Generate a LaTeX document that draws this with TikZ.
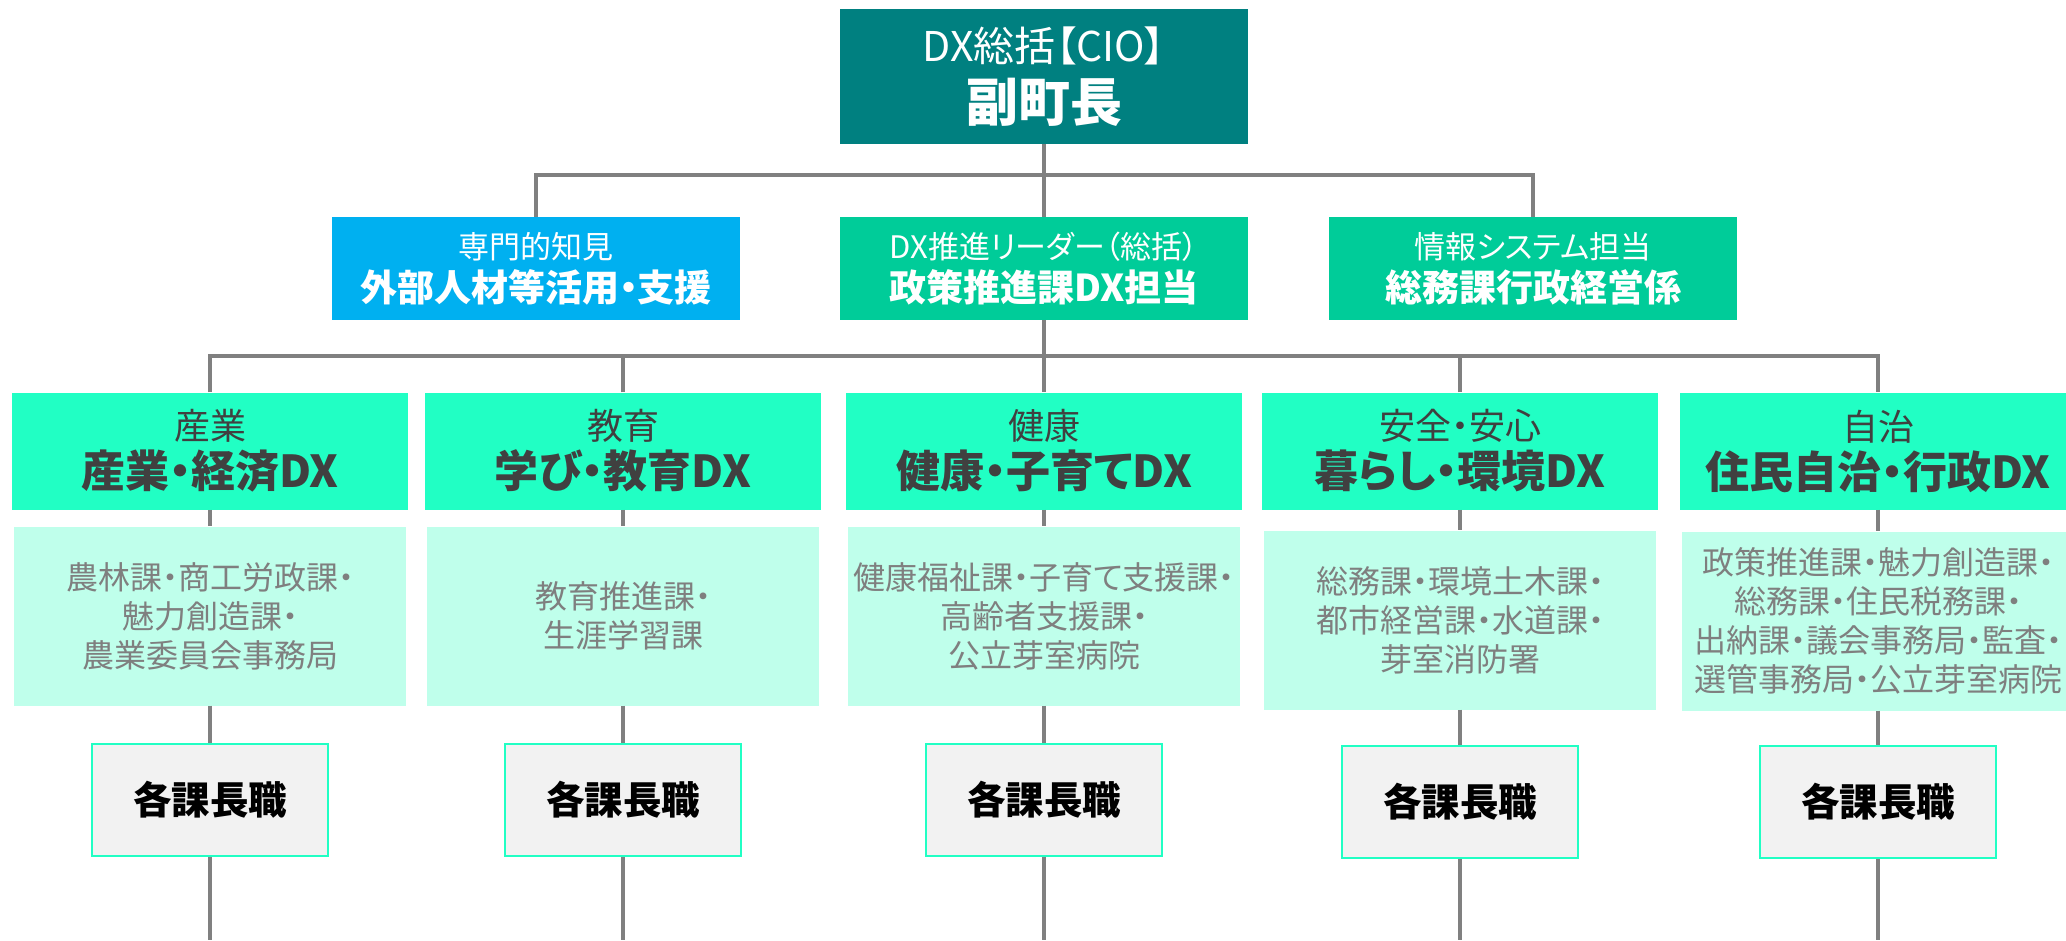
\documentclass[tikz,border=0pt]{standalone}
\usepackage{fontspec}
\setmainfont[RawFeature=+palt]{Noto Sans CJK JP}
\definecolor{cioteal}{RGB}{0,128,128}
\definecolor{extblue}{RGB}{0,176,240}
\definecolor{leadgreen}{RGB}{0,204,153}
\definecolor{dxmint}{RGB}{33,255,196}
\definecolor{deptmint}{RGB}{191,255,235}
\definecolor{chiefgray}{RGB}{242,242,242}
\definecolor{linegray}{RGB}{128,128,128}
\definecolor{darktext}{RGB}{64,64,64}
\definecolor{depttext}{RGB}{127,127,127}

\begin{document}
\begin{tikzpicture}[
  x=1pt, y=-1pt,
  conn/.style={draw=linegray, line width=4pt},
  ciobox/.style={rectangle, minimum width=408pt, minimum height=135pt, inner sep=2pt, fill=cioteal, text=white, align=center, font=\fontsize{41}{60}\selectfont},
  staffbox/.style={rectangle, minimum width=408pt, minimum height=103pt, inner sep=2pt, text=white, align=center, font=\fontsize{31}{43}\selectfont},
  dxbox/.style={rectangle, minimum width=396pt, minimum height=117pt, inner sep=2pt, fill=dxmint, text=darktext, align=center, font=\fontsize{36}{48}\selectfont},
  deptbox/.style={rectangle, minimum width=392pt, minimum height=179pt, inner sep=2pt, fill=deptmint, text=depttext, align=center, font=\fontsize{32}{39}\selectfont},
  chiefbox/.style={rectangle, minimum width=236pt, minimum height=112pt, draw=dxmint, line width=2.5pt, fill=chiefgray, font=\bfseries\fontsize{38.5}{40}\selectfont}
]
\useasboundingbox (0,0) rectangle (2066,940);

% top
\node[ciobox] (cio) at (1044,76.5) {DX総括【CIO】\\{\bfseries\fontsize{52}{60}\selectfont 副町長}};

% staff row
\node[staffbox, fill=extblue] (ext) at (536,268.5) {専門的知見\\{\bfseries\fontsize{37}{43}\selectfont 外部人材等活用・支援}};
\node[staffbox, fill=leadgreen] (lead) at (1044,268.5) {DX推進リーダー（総括）\\{\bfseries\fontsize{37}{43}\selectfont 政策推進課DX担当}};
\node[staffbox, fill=leadgreen] (info) at (1533,268.5) {情報システム担当\\{\bfseries\fontsize{37}{43}\selectfont 総務課行政経営係}};

% DX fields
\node[dxbox] (ind) at (210,451) {産業\\{\bfseries\fontsize{44}{48}\selectfont 産業・経済DX}};
\node[dxbox] (edu) at (623,451) {教育\\{\bfseries\fontsize{44}{48}\selectfont 学び・教育DX}};
\node[dxbox] (hlth) at (1044,451) {健康\\{\bfseries\fontsize{44}{48}\selectfont 健康・子育てDX}};
\node[dxbox] (life) at (1460,451) {安全・安心\\{\bfseries\fontsize{44}{48}\selectfont 暮らし・環境DX}};
\node[dxbox] (gov) at (1878,451) {自治\\{\bfseries\fontsize{44}{48}\selectfont 住民自治・行政DX}};

% departments
\node[deptbox] (indD) at (210,616) {農林課・商工労政課・\\魅力創造課・\\農業委員会事務局};
\node[deptbox] (eduD) at (623,616) {教育推進課・\\生涯学習課};
\node[deptbox] (hlthD) at (1044,616) {健康福祉課・子育て支援課・\\高齢者支援課・\\公立芽室病院};
\node[deptbox] (lifeD) at (1460,620) {総務課・環境土木課・\\都市経営課・水道課・\\芽室消防署};
\node[deptbox] (govD) at (1878,621) {政策推進課・魅力創造課・\\総務課・住民税務課・\\出納課・議会事務局・監査・\\選管事務局・公立芽室病院};

% section chiefs
\node[chiefbox] (indC) at (210,800) {各課長職};
\node[chiefbox] (eduC) at (623,800) {各課長職};
\node[chiefbox] (hlthC) at (1044,800) {各課長職};
\node[chiefbox] (lifeC) at (1460,802) {各課長職};
\node[chiefbox] (govC) at (1878,802) {各課長職};

\coordinate (busA) at (1044,175);
\coordinate (busB) at (1044,356);
\coordinate (indE) at (210,940);
\coordinate (eduE) at (623,940);
\coordinate (hlthE) at (1044,940);
\coordinate (lifeE) at (1460,940);
\coordinate (govE) at (1878,940);

% connectors
\draw[conn] (cio) -- (lead);
\draw[conn] (ext.north) |- (info.north |- busA) -- (info.north);
\draw[conn] (lead) -- (hlth);
\draw[conn] (ind.north) |- (gov.north |- busB) -- (gov.north);
\draw[conn] (edu.north) -- (edu.north |- busB);
\draw[conn] (life.north) -- (life.north |- busB);
\draw[conn] (ind) -- (indD) -- (indC) -- (indE);
\draw[conn] (edu) -- (eduD) -- (eduC) -- (eduE);
\draw[conn] (hlth) -- (hlthD) -- (hlthC) -- (hlthE);
\draw[conn] (life) -- (lifeD) -- (lifeC) -- (lifeE);
\draw[conn] (gov) -- (govD) -- (govC) -- (govE);
\end{tikzpicture}
\end{document}
